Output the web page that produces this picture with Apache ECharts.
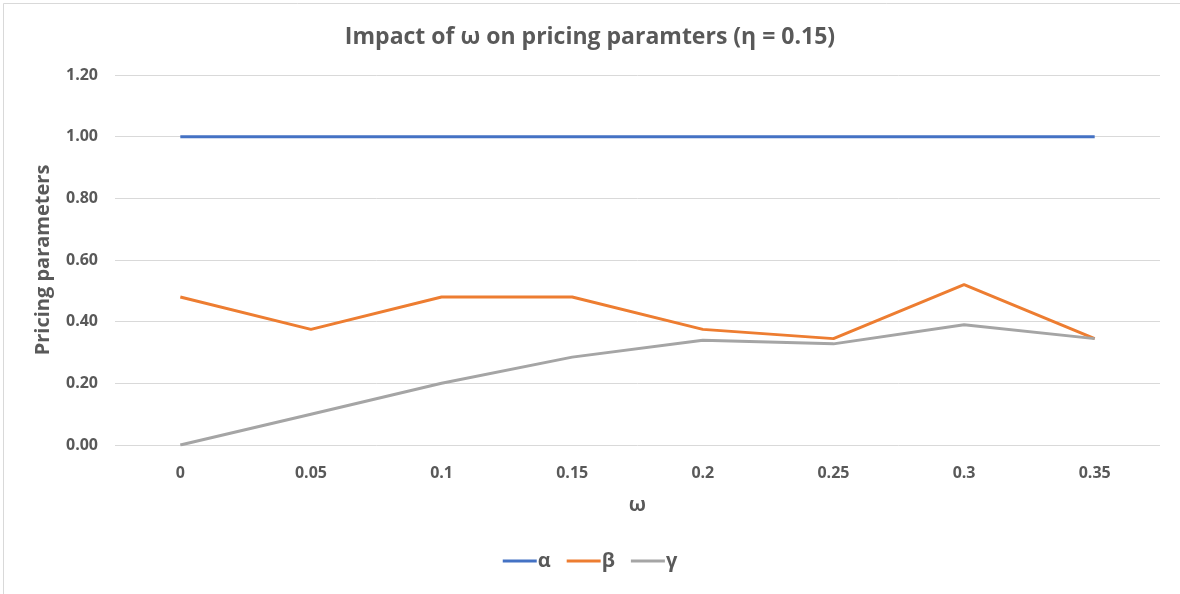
<!DOCTYPE html>
<html>
<head>
<meta charset="utf-8">
<script src="https://cdn.jsdelivr.net/npm/echarts@6/dist/echarts.min.js"></script>
<style>
  html, body { margin: 0; padding: 0; background: #fff; }
  #chart { width: 1180px; height: 594px; }
</style>
</head>
<body>
<div id="chart"></div>
<script>
// ω values along the x axis
const omegaLabels = ['0', '0.05', '0.1', '0.15', '0.2', '0.25', '0.3', '0.35'];
// Pricing parameters for each ω
const alphaValues = [1, 1, 1, 1, 1, 1, 1, 1];
const betaValues  = [0.48, 0.375, 0.48, 0.48, 0.375, 0.345, 0.52, 0.345];
const gammaValues = [0, 0.10, 0.20, 0.285, 0.34, 0.328, 0.39, 0.345];
const seriesNames = ['α', 'β', 'γ'];

const FONT = '"Open Sans", "Liberation Sans", sans-serif';
const TEXT = '#595959';

const chart = echarts.init(document.getElementById('chart'), null, { renderer: 'canvas' });

function lineSeries(name, data, color) {
  return {
    name: name,
    type: 'line',
    data: data,
    symbol: 'none',
    lineStyle: { color: color, width: 3 },
    itemStyle: { color: color },
    animation: false
  };
}

chart.setOption({
  backgroundColor: '#fff',
  animation: false,
  // thin frame around the chart area
  graphic: [{
    type: 'rect',
    left: 1, top: 1,
    shape: { width: 1177, height: 591 },
    style: { fill: 'none', stroke: '#d9d9d9', lineWidth: 1 },
    silent: true
  }],
  title: {
    text: 'Impact of ω on pricing paramters (η = 0.15)',
    left: 'center',
    top: 21,
    textStyle: { fontFamily: FONT, fontSize: 23, fontWeight: 'bold', color: TEXT }
  },
  grid: { left: 115, right: 20, top: 75, bottom: 149, containLabel: false },
  legend: {
    data: seriesNames,
    bottom: 18,
    left: 'center',
    icon: 'rect',
    itemWidth: 34,
    itemHeight: 3,
    itemGap: 16,
    textStyle: { fontFamily: FONT, fontSize: 20, fontWeight: 'bold', color: TEXT, padding: [0, 0, 0, -4] }
  },
  xAxis: {
    type: 'category',
    data: omegaLabels,
    boundaryGap: true,
    name: 'ω',
    nameLocation: 'middle',
    nameGap: 50,
    nameTextStyle: { fontFamily: FONT, fontSize: 20, fontWeight: 'bold', color: TEXT },
    axisLine: { show: false },
    axisTick: { show: false },
    axisLabel: { fontFamily: FONT, fontSize: 16, fontWeight: 'bold', color: TEXT, margin: 20 }
  },
  yAxis: {
    type: 'value',
    min: 0,
    max: 1.2,
    interval: 0.2,
    name: 'Pricing parameters',
    nameLocation: 'middle',
    nameGap: 62,
    nameTextStyle: { fontFamily: FONT, fontSize: 20, fontWeight: 'bold', color: TEXT },
    axisLine: { show: false },
    axisTick: { show: false },
    splitLine: { lineStyle: { color: '#d9d9d9', width: 1 } },
    axisLabel: {
      fontFamily: FONT, fontSize: 16, fontWeight: 'bold', color: TEXT, margin: 17,
      formatter: v => v.toFixed(2)
    }
  },
  series: [
    lineSeries(seriesNames[0], alphaValues, '#4472C4'),
    lineSeries(seriesNames[1], betaValues, '#ED7D31'),
    lineSeries(seriesNames[2], gammaValues, '#A5A5A5')
  ]
});
</script>
</body>
</html>
